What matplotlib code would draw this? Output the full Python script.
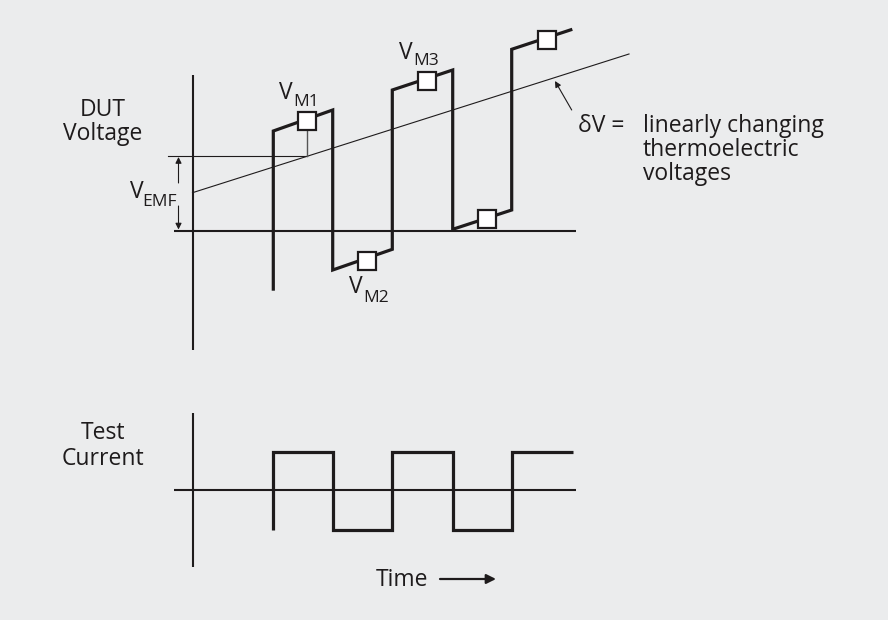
import matplotlib
matplotlib.use("Agg")
import matplotlib.pyplot as plt

# ---- data (diagram coordinates, in the figure's pixel frame) ----
# DUT voltage waveform vertices (time, voltage)
dut_t = [273.3, 273.3, 332.7, 332.7, 392.3, 392.3, 452.7, 452.7, 511.7, 511.7, 572.3]
dut_v = [290.7, 131.0, 110.0, 270.0, 249.3, 90.0, 70.0, 229.3, 210.0, 49.3, 29.3]
# measurement sample points
meas_t = [306.7, 366.7, 427.3, 487.3, 546.7]
meas_v = [121.0, 260.5, 80.5, 219.0, 40.0]
meas_labels = ["M1", "M2", "M3"]
# thermoelectric drift line
drift_t = [192.5, 629.0]
drift_v = [192.7, 54.0]
# test current square wave
cur_t = [273.3, 273.3, 332.7, 332.7, 392.3, 392.3, 452.7, 452.7, 511.7, 511.7, 572.7]
cur_v = [530.0, 451.7, 451.7, 530.0, 530.0, 451.7, 451.7, 530.0, 530.0, 451.7, 451.7]

BG = "#ebeced"
INK = "#1e1b1c"
FONT = "Open Sans"

fig = plt.figure(figsize=(8.88, 6.2), dpi=100, facecolor=BG)
ax = fig.add_axes([0, 0, 1, 1])
ax.set_facecolor(BG)
ax.set_xlim(0, 888)
ax.set_ylim(620, 0)
ax.axis("off")

# axes of the top panel
ax.plot([192.5, 192.5], [75, 350], color=INK, lw=1.5, solid_capstyle="butt")
ax.plot([174, 576], [230.7, 230.7], color=INK, lw=1.5, solid_capstyle="butt")
# axes of the bottom panel
ax.plot([192.5, 192.5], [412.7, 566.7], color=INK, lw=1.5, solid_capstyle="butt")
ax.plot([174, 576], [490, 490], color=INK, lw=1.5, solid_capstyle="butt")

# drift line
ax.plot(drift_t, drift_v, color=INK, lw=0.8)
# V_EMF reference line and drop line
ax.plot([168, meas_t[0]], [156, 156], color=INK, lw=0.8)
ax.plot([meas_t[0], meas_t[0]], [meas_v[0], 156], color="#555555", lw=1.0)

# waveform
ax.plot(dut_t, dut_v, color=INK, lw=2.3, solid_joinstyle="miter", solid_capstyle="butt", zorder=3)
ax.plot(meas_t, meas_v, ls="none", marker="s", ms=13, mfc="white", mec=INK, mew=1.6, zorder=4)

# current waveform
ax.plot(cur_t, cur_v, color=INK, lw=2.3, solid_joinstyle="miter", solid_capstyle="butt", zorder=3)

ap = dict(arrowstyle="-|>", color=INK, lw=0.8, mutation_scale=9, shrinkA=0, shrinkB=0)
# V_EMF double arrow (split around label)
ax.annotate("", xy=(178.5, 157), xytext=(178.5, 183), arrowprops=ap)
ax.annotate("", xy=(178.5, 229.5), xytext=(178.5, 206), arrowprops=ap)
# deltaV pointer
ax.annotate("", xy=(555, 81), xytext=(571.7, 110), arrowprops=ap)
# time arrow
ax.annotate("", xy=(496, 579), xytext=(440, 579),
            arrowprops=dict(arrowstyle="-|>", color=INK, lw=1.6, mutation_scale=14,
                            shrinkA=0, shrinkB=0))

FS = 16.5
SFS = 12.5
tk = dict(family=FONT, color=INK, va="baseline")
ax.text(103, 116, "DUT", fontsize=FS, ha="center", **tk)
ax.text(103, 140, "Voltage", fontsize=FS, ha="center", **tk)
ax.text(103, 439.3, "Test", fontsize=FS, ha="center", **tk)
ax.text(103, 465, "Current", fontsize=FS, ha="center", **tk)
ax.text(376, 586, "Time", fontsize=FS, ha="left", **tk)

# V labels with subscripts
ax.text(130, 198, "V", fontsize=FS, ha="left", **tk)
ax.text(142, 206, "EMF", fontsize=SFS, ha="left", **tk)
sub_pos = [(279, 99, 293, 106), (349, 293, 363, 301.7), (399, 59, 413, 65)]
for (vx, vy, sx, sy), lab in zip(sub_pos, meas_labels):
    ax.text(vx, vy, "V", fontsize=FS, ha="left", **tk)
    ax.text(sx, sy, lab, fontsize=SFS, ha="left", **tk)

ax.text(578, 131.7, "δV =", fontsize=FS, ha="left", **tk)
for y, s in zip([131.7, 155.5, 180], ["linearly changing", "thermoelectric", "voltages"]):
    ax.text(642.7, y, s, fontsize=FS, ha="left", **tk)

fig.savefig("out.png", dpi=100, facecolor=BG)
